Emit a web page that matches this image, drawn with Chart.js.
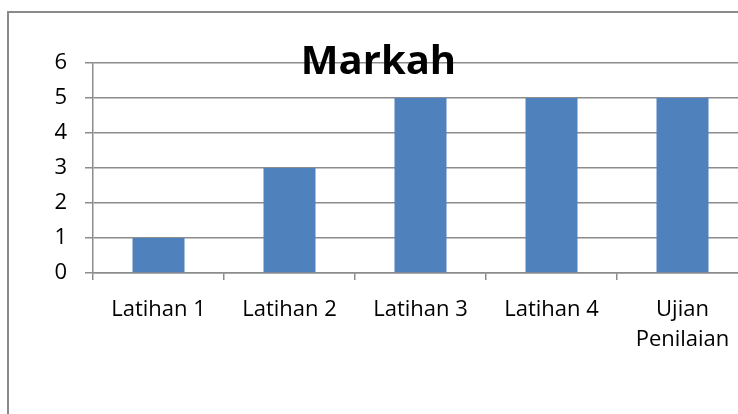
<!DOCTYPE html>
<html>
<head>
<meta charset="utf-8">
<script src="https://cdn.jsdelivr.net/npm/chart.js@4/dist/chart.umd.min.js"></script>
<style>
  html, body { margin: 0; padding: 0; background: #fff; overflow: hidden; width: 738px; height: 414px; }
  #box { position: absolute; left: 7px; top: 11px; border: 2px solid #8a8a8a; width: 740px; height: 420px; background: #fff; }
  canvas { display: block; }
</style>
</head>
<body>
<div id="box"><canvas id="c" width="740" height="420"></canvas></div>
<script>
const categories = ['Latihan 1', 'Latihan 2', 'Latihan 3', 'Latihan 4', ['Ujian', 'Penilaian']];
const markah = [1, 3, 5, 5, 5];
const yTicks = [0, 1, 2, 3, 4, 5, 6];
const chartTitle = 'Markah';

const gridColor = '#8c8c8c';

new Chart(document.getElementById('c'), {
  type: 'bar',
  data: {
    labels: categories,
    datasets: [{
      label: chartTitle,
      data: markah,
      backgroundColor: '#4F81BD',
      borderWidth: 0,
      categoryPercentage: 1,
      barPercentage: 0.397
    }]
  },
  options: {
    responsive: false,
    animation: false,
    devicePixelRatio: 1,
    layout: { padding: { left: 0, right: 1, top: 0, bottom: 60 } },
    plugins: {
      legend: { display: false },
      tooltip: { enabled: false },
      title: {
        display: true,
        text: chartTitle,
        color: '#000',
        font: { family: 'Open Sans', size: 40, weight: 'bold', lineHeight: 1.2 },
        padding: { top: 26, bottom: -24 }
      }
    },
    scales: {
      x: {
        offset: true,
        grid: { display: true, drawOnChartArea: false, drawTicks: true, tickLength: 7, color: gridColor, lineWidth: 1.5, offset: true },
        border: { display: true, color: gridColor, width: 1.5 },
        ticks: { color: '#000', font: { family: 'Open Sans', size: 22, lineHeight: 1.4 }, padding: 14, maxRotation: 0, autoSkip: false },
        afterFit: (s) => { s.height = 100; }
      },
      y: {
        min: 0,
        max: 6,
        afterBuildTicks: (s) => { s.ticks = yTicks.map(v => ({ value: v })); },
        grid: { color: gridColor, lineWidth: 1.5, drawTicks: true, tickLength: 8 },
        border: { display: true, color: gridColor, width: 1.5 },
        ticks: { color: '#000', font: { family: 'Open Sans', size: 22 }, padding: 18 },
        afterFit: (s) => { s.width = 84; }
      }
    }
  }
});
</script>
</body>
</html>
